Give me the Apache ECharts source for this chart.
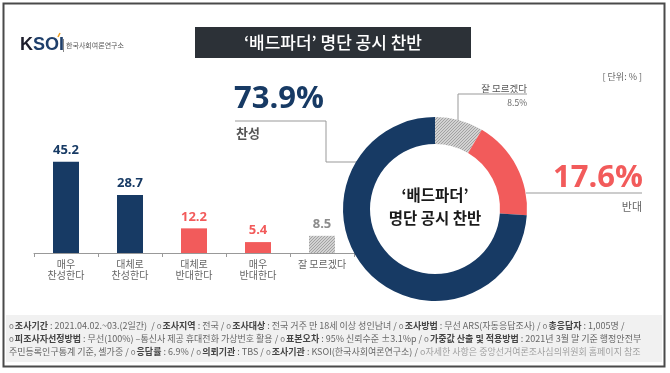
<!DOCTYPE html>
<html>
<head>
<meta charset="utf-8">
<script src="https://cdn.jsdelivr.net/npm/echarts@6/dist/echarts.min.js"></script>
<style>
html,body{margin:0;padding:0;background:#fff;}
#chart{width:670px;height:373px;}
</style>
</head>
<body>
<div id="chart"></div>
<script>
// ---- data ----
var categories = ['매우\n찬성한다', '대체로\n찬성한다', '대체로\n반대한다', '매우\n반대한다', '잘 모르겠다'];
var barValues = [45.2, 28.7, 12.2, 5.4, 8.5];
var pieNames = ['잘 모르겠다', '반대', '찬성'];
var pieValues = [8.5, 17.6, 73.9];
var titleText = '‘배드파더’ 명단 공시 찬반';
var centerText = ['‘배드파더’', '명단 공시 찬반'];
var footerLines = [
  [['o','o'],['b','조사기간'],['n',' : 2021.04.02.~03.(2일간)  / '],['o','o'],['b','조사지역'],['n',' : 전국 / '],['o','o'],['b','조사대상'],['n',' : 전국 거주 만 18세 이상 성인남녀 / '],['o','o'],['b','조사방법'],['n',' : 무선 ARS(자동응답조사) / '],['o','o'],['b','총응답자'],['n',' : 1,005명 /']],
  [['o','o'],['b','피조사자선정방법'],['n',' : 무선(100%) –통신사 제공 휴대전화 가상번호 활용 / '],['o','o'],['b','표본오차'],['n',' : 95% 신뢰수준 ±3.1%p / '],['o','o'],['b','가중값 산출 및 적용방법'],['n',' : 2021년 3월 말 기준 행정안전부']],
  [['n','주민등록인구통계 기준, 셀가중 / '],['o','o'],['b','응답률'],['n',' : 6.9% / '],['o','o'],['b','의뢰기관'],['n',' : TBS / '],['o','o'],['b','조사기관'],['n',' : KSOI(한국사회여론연구소) / '],['l','o자세한 사항은 중앙선거여론조사심의위원회 홈페이지 참조']]
];

var NAVY = '#173a64', RED = '#f25b5b';
var FONT = '"Noto Sans CJK KR", "Noto Sans", sans-serif';

function hatch() {
  var c = document.createElement('canvas');
  c.width = 3; c.height = 3;
  var g = c.getContext('2d');
  g.fillStyle = '#d2d2d2'; g.fillRect(0,0,3,3);
  g.fillStyle = '#a2a2a2';
  g.fillRect(0,2,1,1); g.fillRect(1,1,1,1); g.fillRect(2,0,1,1);
  return {image: c, repeat: 'repeat'};
}
var hatchFill = hatch();
var barColors = [NAVY, NAVY, RED, RED, hatchFill];
var labelColors = [NAVY, NAVY, RED, RED, '#8c8c8c'];
var pieColors = [hatchFill, RED, NAVY];

var chart = echarts.init(document.getElementById('chart'), null, {renderer: 'canvas'});

function footerRich(line) {
  return line.map(function(p){ return '{' + p[0] + '|' + p[1] + '}'; }).join('');
}

var graphics = [
  {type:'rect', shape:{x:3.5,y:3.5,width:661,height:363}, style:{fill:'#fff', stroke:'#4a4a4a', lineWidth:2}, z:-10},
  {type:'rect', shape:{x:6,y:315,width:656,height:47}, style:{fill:'#f1f1f1'}, z:5},
  // logo
  {type:'text', left:20, top:36, style:{text:'{k|K}{s|SOI}', rich:{k:{fontSize:18,fontWeight:'bold',fill:'#1d1d2b',fontFamily:'Arial, sans-serif'}, s:{fontSize:18,fontWeight:'bold',fill:'#1f3f6b',fontFamily:'Arial, sans-serif'}}}},
  {type:'line', shape:{x1:58,y1:37,x2:60,y2:33}, style:{stroke:'#f0a020', lineWidth:1.5}},
  {type:'rect', shape:{x:63,y:39,width:1,height:13}, style:{fill:'#888'}},
  {type:'text', left:66, top:42, style:{text:'한국사회여론연구소', fontSize:7, fill:'#555', fontFamily:FONT}},
  // title
  {type:'rect', shape:{x:195,y:27,width:276,height:31}, style:{fill:'#2c3137'}},
  {type:'text', x:333, y:43, style:{text:titleText, fontSize:17, fontWeight:500, fill:'#fff', fontFamily:FONT, align:'center', verticalAlign:'middle'}},
  // unit
  {type:'text', x:642, y:77, style:{text:'[ 단위: % ]', fontSize:9, fill:'#666', fontFamily:FONT, align:'right', verticalAlign:'middle'}},
  // 73.9
  {type:'text', x:234, y:99, style:{text:pieValues[2].toFixed(1)+'%', fontSize:31, fontWeight:'bold', fill:NAVY, fontFamily:'"Open Sans", "Noto Sans", sans-serif', align:'left', verticalAlign:'middle'}},
  {type:'text', x:236, y:133, style:{text:pieNames[2], fontSize:13, fontWeight:'bold', fill:'#555', fontFamily:FONT, align:'left', verticalAlign:'middle'}},
  {type:'polyline', shape:{points:[[235,121],[326,121],[326,162],[357,162]]}, style:{stroke:'#999', lineWidth:1, fill:null}},
  // 17.6
  {type:'text', x:643, y:178, style:{text:pieValues[1].toFixed(1)+'%', fontSize:31, fontWeight:'bold', fill:RED, fontFamily:'"Open Sans", "Noto Sans", sans-serif', align:'right', verticalAlign:'middle'}},
  {type:'text', x:642, y:207, style:{text:pieNames[1], fontSize:11, fill:'#666', fontFamily:FONT, align:'right', verticalAlign:'middle'}},
  {type:'polyline', shape:{points:[[526,193],[642,193]]}, style:{stroke:'#999', lineWidth:1, fill:null}},
  // 8.5
  {type:'text', x:527, y:88, style:{text:pieNames[0], fontSize:9.5, fill:'#555', fontFamily:FONT, align:'right', verticalAlign:'middle'}},
  {type:'text', x:527, y:103, style:{text:pieValues[0].toFixed(1)+'%', fontSize:8.5, fill:'#666', fontFamily:FONT, align:'right', verticalAlign:'middle'}},
  {type:'polyline', shape:{points:[[527,94],[458,94],[458,121]]}, style:{stroke:'#999', lineWidth:1, fill:null}},
  // donut center
  {type:'text', x:435, y:195, style:{text:centerText[0], fontSize:15.5, fontWeight:'bold', fill:'#1a1a1a', fontFamily:FONT, align:'center', verticalAlign:'middle'}},
  {type:'text', x:435, y:218, style:{text:centerText[1], fontSize:15.5, fontWeight:'bold', fill:'#1a1a1a', fontFamily:FONT, align:'center', verticalAlign:'middle'}}
];
var fRich = {
  o:{fontSize:8, fill:'#777', fontFamily:FONT, padding:[0,1,0,0]},
  b:{fontSize:9, fontWeight:'bold', fill:'#444', fontFamily:FONT},
  n:{fontSize:9, fill:'#666', fontFamily:FONT},
  l:{fontSize:9, fill:'#a0a0a0', fontFamily:FONT}
};
footerLines.forEach(function(line, i){
  graphics.push({type:'text', x:9, y:326 + i*13, z:6, style:{text:footerRich(line), rich:fRich, verticalAlign:'middle', align:'left'}});
});

chart.setOption({
  animation: false,
  backgroundColor: '#fff',
  grid: {left:34, top:152, width:320, height:101, containLabel:false},
  xAxis: {
    type:'category', data:categories,
    axisLine:{lineStyle:{color:'#999', width:1}},
    axisTick:{show:true, length:4, lineStyle:{color:'#999'}},
    axisLabel:{color:'#666', fontSize:10, lineHeight:11, margin:6, fontFamily:FONT, interval:0}
  },
  yAxis: {type:'value', min:0, max:50, show:false, splitLine:{show:false}},
  series: [
    {
      type:'bar', barWidth:26, silent:true,
      data: barValues.map(function(v,i){
        return {value:v, itemStyle:{color:barColors[i]}, label:{color:labelColors[i]}};
      }),
      label:{show:true, position:'top', distance:5, fontSize:13, fontWeight:'bold', fontFamily:'"Open Sans", "Noto Sans", sans-serif'}
    },
    {
      type:'pie', silent:true, center:[435,209], radius:[65,92], startAngle:90, clockwise:true,
      label:{show:false}, labelLine:{show:false},
      data: pieValues.map(function(v,i){
        return {name:pieNames[i], value:v, itemStyle:{color:pieColors[i]}};
      })
    }
  ],
  graphic: graphics
});
</script>
</body>
</html>
